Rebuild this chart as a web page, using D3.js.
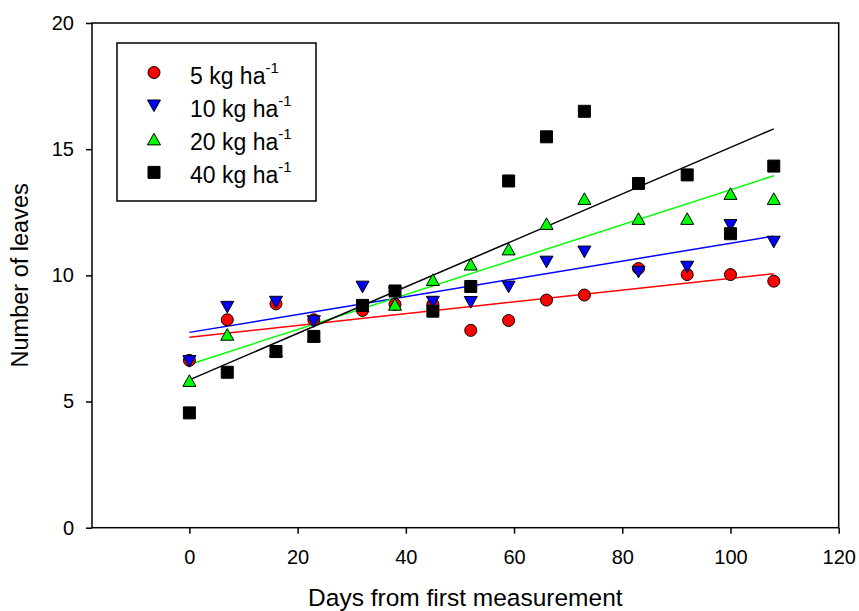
<!DOCTYPE html>
<html>
<head>
<meta charset="utf-8">
<script src="https://cdn.jsdelivr.net/npm/d3@7"></script>
<style>
  body { margin: 0; background: #fff; }
  svg { display: block; font-family: "Liberation Sans", Arial, sans-serif; }
</style>
</head>
<body>
<svg id="chart" width="859" height="611"></svg>
<script>
// days after the first measurement
var days = [0, 7, 16, 23, 32, 38, 45, 52, 59, 66, 73, 83, 92, 100, 108];

// number of leaves per rate
var leaves5  = [6.63, 8.24, 8.87, 8.24, 8.61, 8.85, 8.85, 7.82, 8.21, 9.02, 9.22, 10.27, 10.03, 10.03, 9.77];
var leaves10 = [6.59, 8.74, 8.94, 8.17, 9.54, 9.30, 8.94, 8.93, 9.54, 10.53, 10.93, 10.13, 10.33, 11.98, 11.32];
var leaves20 = [5.83, 7.66, 7.00, 7.60, 8.80, 8.85, 9.83, 10.44, 11.04, 12.05, 13.04, 12.25, 12.25, 13.24, 13.04];
var leaves40 = [4.55, 6.16, 6.98, 7.58, 8.81, 9.38, 8.58, 9.56, 13.74, 15.49, 16.50, 13.64, 13.98, 11.65, 14.33];

// fitted lines (intercept, slope)
var fitIntercept = [7.55, 7.74, 6.47, 5.86];
var fitSlope = [0.0233, 0.0353, 0.0692, 0.0921];

var seriesNames = ["5 kg ha", "10 kg ha", "20 kg ha", "40 kg ha"];
var seriesColors = ["#ff0000", "#0000ff", "#00ff00", "#000000"];
var seriesShapes = ["circle", "down", "up", "square"];
var allLeaves = [leaves5, leaves10, leaves20, leaves40];

var xTicks = [0, 20, 40, 60, 80, 100, 120];
var yTicks = [0, 5, 10, 15, 20];

var svg = d3.select('#chart');
var plotLeft = 92, plotRight = 838.7, plotTop = 23, plotBottom = 527.7;

var x = d3.scaleLinear().domain([-18, 120]).range([plotLeft, plotRight]);
var y = d3.scaleLinear().domain([0, 20]).range([plotBottom, plotTop]);

// symbol paths centred on 0,0
function shapePath(kind){
    if(kind == "circle") return d3.symbol().type(d3.symbolCircle).size(Math.PI*6*6)();
    if(kind == "square") return "M-6,-6H6V6H-6Z";
    if(kind == "up") return "M0,-5.8L6.5,5.8L-6.5,5.8Z";
    return "M0,5.8L6.5,-5.8L-6.5,-5.8Z";
}

// fit lines
for(let i = 0; i < 4; i++){
    var lineFunc = d3.line()
        .x(function(d) {return x(d);})
        .y(function(d) {return y(fitIntercept[i] + fitSlope[i]*d);});
    svg.append('path')
        .attr('d', lineFunc([days[0], days[days.length-1]]))
        .attr('stroke', seriesColors[i])
        .attr('stroke-width', 1.5)
        .attr('fill', 'none');
}

// points
for(let i = 0; i < 4; i++){
    svg.append('g').selectAll('path')
        .data(allLeaves[i])
        .enter().append('path')
        .attr('d', shapePath(seriesShapes[i]))
        .attr('transform', function(d, j){ return 'translate(' + x(days[j]) + ',' + y(d) + ')'; })
        .attr('fill', seriesColors[i])
        .attr('stroke', '#000')
        .attr('stroke-width', 1);
}

// axes
var xAxis = svg.append('g')
    .attr('transform', 'translate(0,' + plotBottom + ')')
    .call(d3.axisBottom(x).tickValues(xTicks).tickSize(6).tickSizeOuter(0).tickPadding(16));
var yAxis = svg.append('g')
    .attr('transform', 'translate(' + plotLeft + ',0)')
    .call(d3.axisLeft(y).tickValues(yTicks).tickSize(6).tickSizeOuter(0).tickPadding(12));
[xAxis, yAxis].forEach(function(a){
    a.select('.domain').remove();
    a.selectAll('line').attr('stroke', '#000').attr('stroke-width', 1.5);
    a.selectAll('text').attr('fill', '#000').style('font-size', '20px')
        .style('font-family', '"Liberation Sans", Arial, sans-serif');
});

// frame
svg.append('rect')
    .attr('x', plotLeft).attr('y', plotTop)
    .attr('width', plotRight - plotLeft).attr('height', plotBottom - plotTop)
    .attr('fill', 'none').attr('stroke', '#000').attr('stroke-width', 1.5);

// axis titles
svg.append('text')
    .attr('x', (plotLeft + plotRight)/2).attr('y', 606)
    .attr('text-anchor', 'middle')
    .style('font-size', '24.5px')
    .text('Days from first measurement');
svg.append('text')
    .attr('transform', 'translate(28,' + (plotTop + plotBottom)/2 + ') rotate(-90)')
    .attr('text-anchor', 'middle')
    .style('font-size', '23.5px')
    .text('Number of leaves');

// legend
svg.append('rect')
    .attr('x', 117).attr('y', 43).attr('width', 199).attr('height', 158)
    .attr('fill', '#fff').attr('stroke', '#000').attr('stroke-width', 1.5);
for(let i = 0; i < 4; i++){
    var rowY = 72.5 + i*33.3;
    svg.append('path')
        .attr('d', shapePath(seriesShapes[i]))
        .attr('transform', 'translate(154,' + rowY + ')')
        .attr('fill', seriesColors[i])
        .attr('stroke', '#000')
        .attr('stroke-width', 1);
    var t = svg.append('text')
        .attr('x', 190).attr('y', rowY + 11)
        .style('font-size', '23px')
        .text(seriesNames[i]);
    t.append('tspan')
        .attr('dy', -11)
        .style('font-size', '15px')
        .text('-1');
}
</script>
</body>
</html>
